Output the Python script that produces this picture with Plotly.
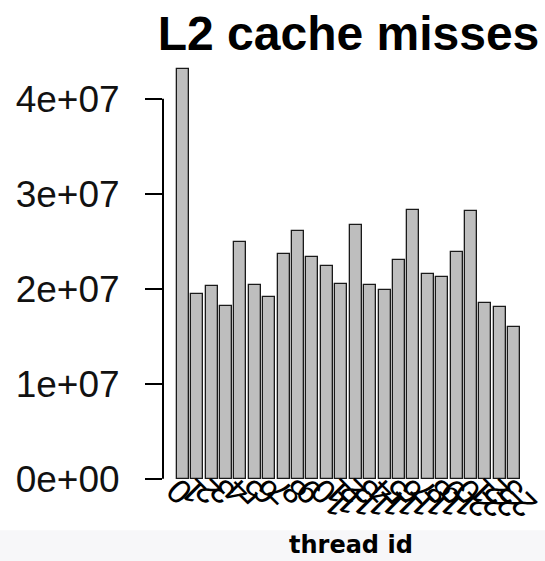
import plotly.graph_objects as go

# L2 cache misses per thread
thread_ids = [str(i) for i in range(24)]
l2_misses = [
    4.31e7, 1.94e7, 2.03e7, 1.82e7, 2.49e7, 2.035e7, 1.91e7, 2.37e7,
    2.61e7, 2.33e7, 2.24e7, 2.045e7, 2.67e7, 2.04e7, 1.99e7, 2.305e7,
    2.83e7, 2.155e7, 2.12e7, 2.385e7, 2.82e7, 1.845e7, 1.81e7, 1.60e7,
]
y_tick_vals = [0, 1e7, 2e7, 3e7, 4e7]
y_tick_text = ["0e+00", "1e+07", "2e+07", "3e+07", "4e+07"]

# barplot-style layout: unit width bars separated by 0.2 spaces
bar_width = 1.0
space = 0.2
centers = [space + bar_width / 2 + i * (bar_width + space) for i in range(len(l2_misses))]
x_lo = space
x_hi = len(l2_misses) * (bar_width + space)
x_pad = 0.04 * (x_hi - x_lo)
y_max = max(l2_misses)
y_pad = 0.04 * y_max

font_main = "Liberation Sans, Arial, Helvetica, sans-serif"

fig = go.Figure(
    go.Bar(
        x=centers,
        y=l2_misses,
        width=bar_width,
        marker=dict(color="#bebebe", line=dict(color="#1a1a1a", width=1.3)),
        hoverinfo="skip",
    )
)

zero_frac = y_pad / (y_max + 2 * y_pad)

fig.update_layout(
    width=545,
    height=561,
    margin=dict(l=163, r=11, t=53, b=66),
    paper_bgcolor="white",
    plot_bgcolor="white",
    showlegend=False,
    bargap=0,
    title=dict(
        text="<b>L2 cache misses</b>",
        font=dict(family=font_main, size=48, color="black"),
        x=0.5,
        xref="paper",
        xanchor="center",
        y=1 - 33 / 561,
        yanchor="middle",
    ),
    xaxis=dict(
        range=[x_lo - x_pad, x_hi + x_pad],
        tickmode="array",
        tickvals=centers,
        ticktext=thread_ids,
        tickangle=-135,
        ticks="",
        showline=False,
        showgrid=False,
        zeroline=False,
        anchor="free",
        position=zero_frac,
        ticklabelshift=-14,
        ticklabelstandoff=-8,
        tickfont=dict(family=font_main, size=34, color="black"),
        automargin=False,
    ),
    yaxis=dict(
        range=[-y_pad, y_max + y_pad],
        tickmode="array",
        tickvals=y_tick_vals,
        ticktext=y_tick_text,
        ticks="outside",
        ticklen=17,
        tickwidth=2,
        tickcolor="black",
        ticklabelstandoff=18,
        showline=False,
        showgrid=False,
        zeroline=False,
        tickfont=dict(family=font_main, size=37, color="#111111"),
        automargin=False,
    ),
    shapes=[
        # light band behind the axis caption
        dict(
            type="rect", xref="paper", yref="paper",
            x0=-0.5, x1=1.1, y0=-0.3, y1=(494.7 - 530) / 442,
            fillcolor="#f7f7f9", line=dict(width=0), layer="below",
        ),
        # y axis line spanning first to last tick
        dict(
            type="line", xref="paper", yref="y",
            x0=0, x1=0, y0=y_tick_vals[0], y1=y_tick_vals[-1],
            line=dict(color="black", width=2),
        ),
    ],
    annotations=[
        dict(
            text="<b>thread id</b>",
            xref="paper", yref="paper",
            x=(351 - 163) / 371, y=(494.7 - 561) / 442,
            xanchor="center", yanchor="bottom",
            showarrow=False,
            font=dict(family="DejaVu Sans, sans-serif", size=24, color="black"),
        )
    ],
)

fig.write_html("out.html")
